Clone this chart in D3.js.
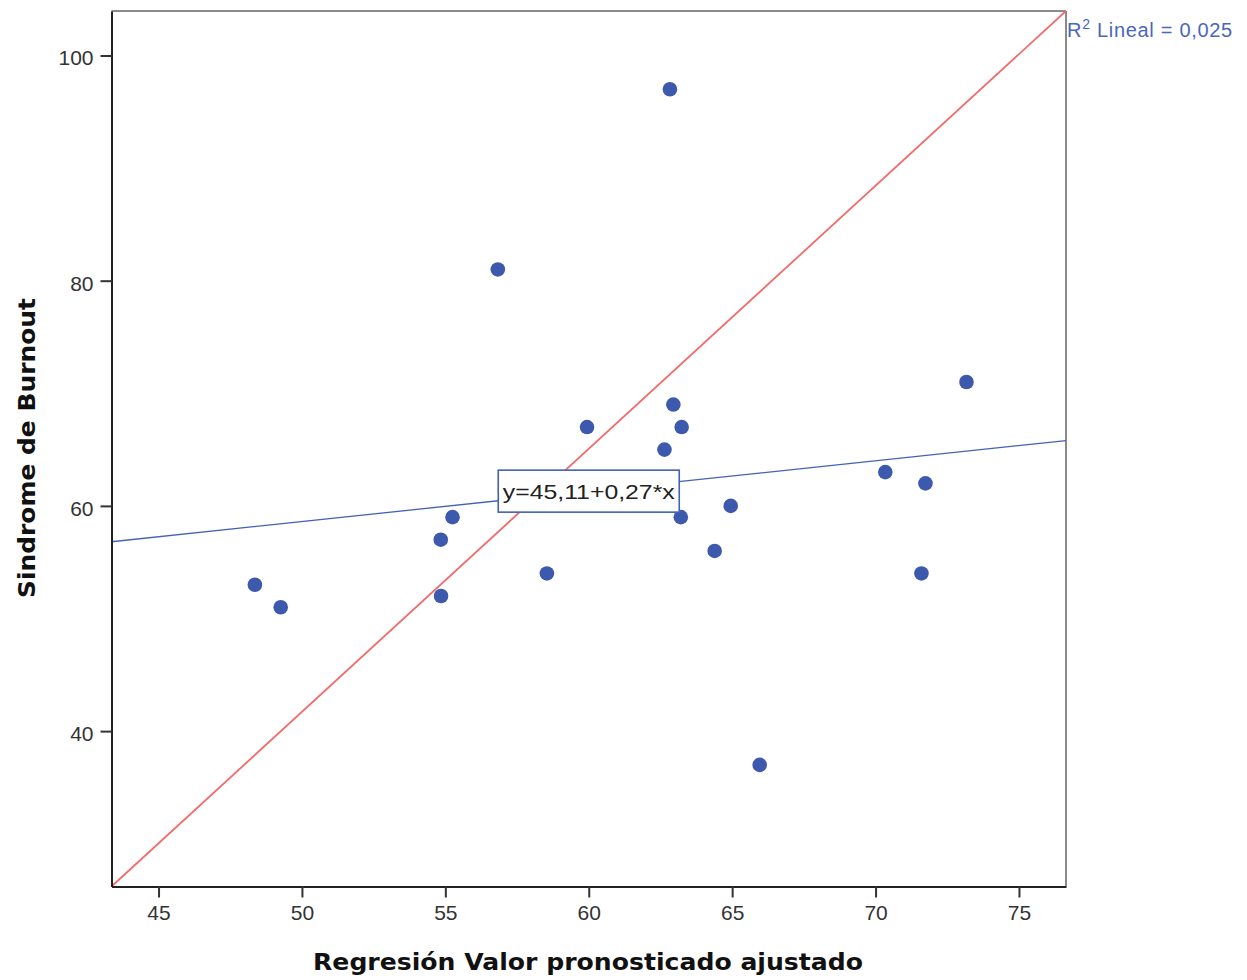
<!DOCTYPE html>
<html>
<head>
<meta charset="utf-8">
<script src="https://cdn.jsdelivr.net/npm/d3@7"></script>
<style>
  html, body { margin: 0; padding: 0; background: #fff; }
  svg { display: block; }
</style>
</head>
<body>
<svg id="chart" width="1247" height="980"></svg>
<script>
// Predicted values (x) and observed burnout scores (y)
const predicted = [48.36, 49.26, 54.84, 54.85, 55.25, 56.83, 58.54, 59.94, 62.83, 62.64,
                   62.95, 63.24, 63.21, 64.39, 64.95, 65.96, 70.34, 71.74, 71.60, 73.17];
const burnout   = [53, 51, 57, 52, 59, 81, 54, 67, 97, 65,
                   69, 67, 59, 56, 60, 37, 63, 62, 54, 71];
const xTicks = [45, 50, 55, 60, 65, 70, 75];
const yTicks = [40, 60, 80, 100];
const xDomain = [43.36, 76.64];
const yDomain = [26.2, 103.95];
const fit = { intercept: 45.11, slope: 0.27, r2: "0,025" };
const fitLabelX = 60;

const svg = d3.select("#chart");
const plotLeft = 111.5, plotRight = 1066, plotTop = 11, plotBottom = 886.5;

const x = d3.scaleLinear().domain(xDomain).range([plotLeft, plotRight]);
const y = d3.scaleLinear().domain(yDomain).range([plotBottom, plotTop]);

const font = "'Liberation Sans', Arial, sans-serif";
const titleFont = "'DejaVu Sans', Verdana, sans-serif";

// Plot frame: right and top edges grey
svg.append("line").attr("x1", plotLeft).attr("x2", plotRight).attr("y1", plotTop).attr("y2", plotTop)
  .attr("stroke", "#8a8a8a").attr("stroke-width", 2);
svg.append("line").attr("x1", plotRight).attr("x2", plotRight).attr("y1", plotTop).attr("y2", plotBottom)
  .attr("stroke", "#8a8a8a").attr("stroke-width", 2);

// Diagonal reference line across the plot area
svg.append("line")
  .attr("x1", x(xDomain[0])).attr("y1", y(yDomain[0]))
  .attr("x2", x(xDomain[1])).attr("y2", y(yDomain[1]))
  .attr("stroke", "#f26b6b").attr("stroke-width", 1.8);

// Linear fit
const fy = v => fit.intercept + fit.slope * v;
svg.append("line")
  .attr("x1", x(xDomain[0])).attr("y1", y(fy(xDomain[0])))
  .attr("x2", x(xDomain[1])).attr("y2", y(fy(xDomain[1])))
  .attr("stroke", "#4361b5").attr("stroke-width", 1.3);

// Points
svg.append("g").selectAll("circle")
  .data(predicted.map((v, i) => [v, burnout[i]]))
  .join("circle")
  .attr("cx", d => x(d[0])).attr("cy", d => y(d[1]))
  .attr("r", 7.3)
  .attr("fill", "#3d59ad");

// Axes
const xAxis = svg.append("g").attr("transform", `translate(0,${plotBottom})`)
  .call(d3.axisBottom(x).tickValues(xTicks).tickSize(11).tickSizeOuter(0).tickPadding(8));
const yAxis = svg.append("g").attr("transform", `translate(${plotLeft},0)`)
  .call(d3.axisLeft(y).tickValues(yTicks).tickSize(11).tickSizeOuter(0).tickPadding(7));
[xAxis, yAxis].forEach(g => {
  g.select(".domain").attr("stroke", "#222").attr("stroke-width", 2);
  g.selectAll(".tick line").attr("stroke", "#333").attr("stroke-width", 2);
  g.selectAll(".tick text").attr("font-family", font).attr("font-size", 21).attr("fill", "#333");
});
yAxis.selectAll(".tick text").attr("dy", "0.45em");

// Equation label box on the fit line
const eq = svg.append("g").attr("transform", `translate(${x(fitLabelX)},${y(fy(fitLabelX))})`);
eq.append("rect")
  .attr("x", -90.5).attr("y", -21).attr("width", 181).attr("height", 42)
  .attr("fill", "#fff").attr("stroke", "#4361b5").attr("stroke-width", 1.6);
eq.append("text")
  .attr("x", -86).attr("dy", "0.36em")
  .attr("textLength", 172).attr("lengthAdjust", "spacingAndGlyphs")
  .attr("font-family", font).attr("font-size", 21).attr("fill", "#222")
  .text("y=45,11+0,27*x");

// R² annotation
const r2 = svg.append("text")
  .attr("x", 1067).attr("y", 37)
  .attr("font-family", font).attr("font-size", 20).attr("fill", "#4a67bb")
  .attr("letter-spacing", 0.7);
r2.append("tspan").text("R");
r2.append("tspan").attr("font-size", 14).attr("dy", -8).text("2");
r2.append("tspan").attr("dy", 8).text(" Lineal = " + fit.r2);

// Axis titles
svg.append("text")
  .attr("x", 588).attr("y", 970)
  .attr("text-anchor", "middle")
  .attr("textLength", 550).attr("lengthAdjust", "spacingAndGlyphs")
  .attr("font-family", titleFont).attr("font-weight", "bold").attr("font-size", 23).attr("fill", "#111")
  .text("Regresión Valor pronosticado ajustado");
svg.append("text")
  .attr("transform", "translate(35,448) rotate(-90)")
  .attr("text-anchor", "middle")
  .attr("textLength", 300).attr("lengthAdjust", "spacingAndGlyphs")
  .attr("font-family", titleFont).attr("font-weight", "bold").attr("font-size", 23).attr("fill", "#111")
  .text("Sindrome de Burnout");
</script>
</body>
</html>
